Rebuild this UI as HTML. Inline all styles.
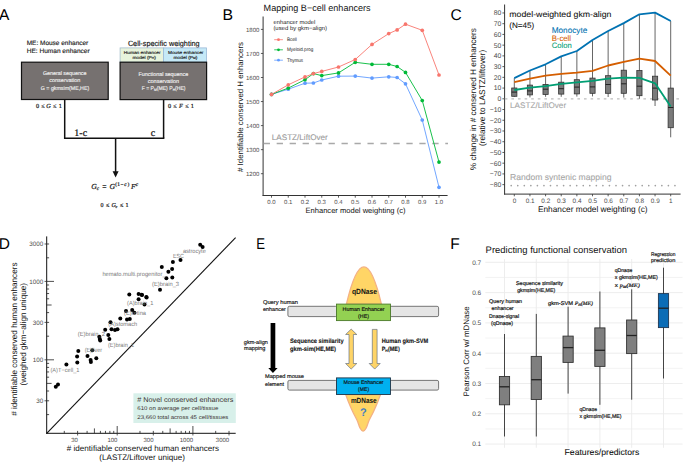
<!DOCTYPE html>
<html><head><meta charset="utf-8"><style>
html,body{margin:0;padding:0;background:#fff;overflow:hidden;}
svg{display:block;} text{text-rendering:geometricPrecision;}
</style></head><body>
<svg width="685" height="462" viewBox="0 0 685 462">
<rect width="685" height="462" fill="#fff"/>
<text transform="translate(-1,20.2) scale(1,1)" x="0" y="0" font-family="Liberation Sans, sans-serif" font-size="15.5" fill="#000">A</text>
<text transform="translate(222.6,19.9) scale(1.02,1)" x="0" y="0" font-family="Liberation Sans, sans-serif" font-size="15.5" fill="#000">B</text>
<text transform="translate(450.6,20.1) scale(1,1)" x="0" y="0" font-family="Liberation Sans, sans-serif" font-size="15.5" fill="#000">C</text>
<text transform="translate(-1.2,248.9) scale(1,1)" x="0" y="0" font-family="Liberation Sans, sans-serif" font-size="15.5" fill="#000">D</text>
<text transform="translate(256.3,248.9) scale(0.85,1)" x="0" y="0" font-family="Liberation Sans, sans-serif" font-size="15.5" fill="#000">E</text>
<text transform="translate(450.2,248.9) scale(1,1)" x="0" y="0" font-family="Liberation Sans, sans-serif" font-size="15.5" fill="#000">F</text>
<text x="26.70" y="44.70" font-family="Liberation Sans, sans-serif" font-size="6.3" fill="#222" textLength="61.6" lengthAdjust="spacingAndGlyphs"  stroke="#222" stroke-width="0.15">ME: Mouse enhancer</text>
<text x="26.70" y="53.40" font-family="Liberation Sans, sans-serif" font-size="6.3" fill="#222" textLength="63" lengthAdjust="spacingAndGlyphs"  stroke="#222" stroke-width="0.15">HE: Human enhancer</text>
<text x="127.90" y="45.60" font-family="Liberation Sans, sans-serif" font-size="7.6" fill="#111" textLength="71.7" lengthAdjust="spacingAndGlyphs"  stroke="#111" stroke-width="0.15">Cell-specific weighting</text>
<rect x="120.10" y="47.90" width="43.30" height="14.30" fill="#e7f3dc" stroke="#a3bccb" stroke-width="0.8" />
<rect x="163.40" y="47.90" width="43.20" height="14.30" fill="#c5e9f7" stroke="#9ab8d8" stroke-width="0.8" />
<text x="142.20" y="53.90" font-family="Liberation Sans, sans-serif" font-size="4.3" fill="#222" text-anchor="middle" textLength="36.8" lengthAdjust="spacingAndGlyphs"  stroke="#222" stroke-width="0.15">Human enhancer</text>
<text x="144.20" y="59.40" font-family="Liberation Sans, sans-serif" font-size="4.3" fill="#222" text-anchor="middle" textLength="23.5" lengthAdjust="spacingAndGlyphs"  stroke="#222" stroke-width="0.15">model (P<tspan font-size="3">H</tspan>)</text>
<text x="185.70" y="53.90" font-family="Liberation Sans, sans-serif" font-size="4.3" fill="#222" text-anchor="middle" textLength="35.5" lengthAdjust="spacingAndGlyphs"  stroke="#222" stroke-width="0.15">Mouse enhancer</text>
<text x="185.50" y="59.40" font-family="Liberation Sans, sans-serif" font-size="4.3" fill="#222" text-anchor="middle" textLength="23.9" lengthAdjust="spacingAndGlyphs"  stroke="#222" stroke-width="0.15">model (P<tspan font-size="3">M</tspan>)</text>
<rect x="21.50" y="62.20" width="86.70" height="37.30" fill="#767170" stroke="#111" stroke-width="1.2" />
<rect x="120.10" y="62.20" width="86.50" height="37.40" fill="#767170" stroke="#111" stroke-width="1.2" />
<text x="64.70" y="75.40" font-family="Liberation Sans, sans-serif" font-size="5.4" fill="#eee" text-anchor="middle" textLength="43.6" lengthAdjust="spacingAndGlyphs"  stroke="#eee" stroke-width="0.15">General sequence</text>
<text x="64.80" y="82.40" font-family="Liberation Sans, sans-serif" font-size="5.4" fill="#eee" text-anchor="middle" textLength="31.1" lengthAdjust="spacingAndGlyphs"  stroke="#eee" stroke-width="0.15">conservation</text>
<text x="65.00" y="89.80" font-family="Liberation Sans, sans-serif" font-size="5.4" fill="#eee" text-anchor="middle" textLength="48.4" lengthAdjust="spacingAndGlyphs"  stroke="#eee" stroke-width="0.15">G = gkmsim(ME,HE)</text>
<text x="163.40" y="75.50" font-family="Liberation Sans, sans-serif" font-size="5.4" fill="#eee" text-anchor="middle" textLength="49.7" lengthAdjust="spacingAndGlyphs"  stroke="#eee" stroke-width="0.15">Functional sequence</text>
<text x="163.40" y="82.50" font-family="Liberation Sans, sans-serif" font-size="5.4" fill="#eee" text-anchor="middle" textLength="31.3" lengthAdjust="spacingAndGlyphs"  stroke="#eee" stroke-width="0.15">conservation</text>
<text x="163.60" y="89.90" font-family="Liberation Sans, sans-serif" font-size="5.4" fill="#eee" text-anchor="middle" textLength="43.8" lengthAdjust="spacingAndGlyphs"  stroke="#eee" stroke-width="0.15">F = P<tspan font-size="3.5" dy="1">M</tspan><tspan dy="-1">(ME) P</tspan><tspan font-size="3.5" dy="1">H</tspan><tspan dy="-1">(HE)</tspan></text>
<line x1="64.70" y1="99.50" x2="64.70" y2="138.20" stroke="#111" stroke-width="1.5" />
<line x1="163.60" y1="99.60" x2="163.60" y2="138.20" stroke="#111" stroke-width="1.5" />
<line x1="63.95" y1="138.20" x2="164.35" y2="138.20" stroke="#111" stroke-width="1.5" />
<line x1="115.60" y1="138.20" x2="115.60" y2="172.00" stroke="#111" stroke-width="1.5" />
<path d="M112.6,171.2 L118.6,171.2 L115.6,177.6 Z" fill="#111"/>
<text x="76.80" y="135.60" font-family="Liberation Serif, serif" font-size="10" fill="#111" text-anchor="middle" stroke="#111" stroke-width="0.22">1</text>
<text x="81.00" y="135.60" font-family="Liberation Serif, serif" font-size="10" fill="#111" text-anchor="middle" stroke="#111" stroke-width="0.22">-</text>
<text x="84.90" y="135.60" font-family="Liberation Serif, serif" font-size="10" fill="#111" text-anchor="middle" stroke="#111" stroke-width="0.22">c</text>
<text x="153.00" y="135.60" font-family="Liberation Serif, serif" font-size="10" fill="#111" text-anchor="middle" stroke="#111" stroke-width="0.22">c</text>
<text x="37.45" y="107.80" font-family="Liberation Serif, serif" font-size="6.2" fill="#222" text-anchor="middle" stroke="#222" stroke-width="0.22">0</text>
<text x="42.95" y="107.80" font-family="Liberation Serif, serif" font-size="6.2" fill="#222" text-anchor="middle" stroke="#222" stroke-width="0.22">≤</text>
<text x="48.50" y="107.80" font-family="Liberation Serif, serif" font-size="6.2" fill="#222" text-anchor="middle" font-style="italic" stroke="#222" stroke-width="0.22">G</text>
<text x="54.75" y="107.80" font-family="Liberation Serif, serif" font-size="6.2" fill="#222" text-anchor="middle" stroke="#222" stroke-width="0.22">≤</text>
<text x="60.35" y="107.80" font-family="Liberation Serif, serif" font-size="6.2" fill="#222" text-anchor="middle" stroke="#222" stroke-width="0.22">1</text>
<text x="169.45" y="107.80" font-family="Liberation Serif, serif" font-size="6.2" fill="#222" text-anchor="middle" stroke="#222" stroke-width="0.22">0</text>
<text x="174.95" y="107.80" font-family="Liberation Serif, serif" font-size="6.2" fill="#222" text-anchor="middle" stroke="#222" stroke-width="0.22">≤</text>
<text x="180.95" y="107.80" font-family="Liberation Serif, serif" font-size="6.2" fill="#222" text-anchor="middle" font-style="italic" stroke="#222" stroke-width="0.22">F</text>
<text x="187.00" y="107.80" font-family="Liberation Serif, serif" font-size="6.2" fill="#222" text-anchor="middle" stroke="#222" stroke-width="0.22">≤</text>
<text x="192.40" y="107.80" font-family="Liberation Serif, serif" font-size="6.2" fill="#222" text-anchor="middle" stroke="#222" stroke-width="0.22">1</text>
<text x="93.90" y="188.80" font-family="Liberation Serif, serif" font-size="7.6" fill="#222" text-anchor="middle" font-style="italic" stroke="#222" stroke-width="0.22">G</text>
<text x="97.90" y="190.40" font-family="Liberation Serif, serif" font-size="5.2" fill="#222" text-anchor="middle" font-style="italic" stroke="#222" stroke-width="0.22">c</text>
<text x="104.30" y="188.80" font-family="Liberation Serif, serif" font-size="7.6" fill="#222" text-anchor="middle" stroke="#222" stroke-width="0.22">=</text>
<text x="112.30" y="188.80" font-family="Liberation Serif, serif" font-size="7.6" fill="#222" text-anchor="middle" font-style="italic" stroke="#222" stroke-width="0.22">G</text>
<text x="116.20" y="186.30" font-family="Liberation Serif, serif" font-size="5.4" fill="#222" text-anchor="middle" stroke="#222" stroke-width="0.22">(</text>
<text x="118.60" y="186.30" font-family="Liberation Serif, serif" font-size="5.4" fill="#222" text-anchor="middle" stroke="#222" stroke-width="0.22">1</text>
<text x="121.90" y="186.30" font-family="Liberation Serif, serif" font-size="5.4" fill="#222" text-anchor="middle" stroke="#222" stroke-width="0.22">−</text>
<text x="125.40" y="186.30" font-family="Liberation Serif, serif" font-size="5.4" fill="#222" text-anchor="middle" font-style="italic" stroke="#222" stroke-width="0.22">c</text>
<text x="128.30" y="186.30" font-family="Liberation Serif, serif" font-size="5.4" fill="#222" text-anchor="middle" stroke="#222" stroke-width="0.22">)</text>
<text x="133.30" y="188.80" font-family="Liberation Serif, serif" font-size="7.6" fill="#222" text-anchor="middle" font-style="italic" stroke="#222" stroke-width="0.22">F</text>
<text x="137.00" y="186.30" font-family="Liberation Serif, serif" font-size="5.4" fill="#222" text-anchor="middle" font-style="italic" stroke="#222" stroke-width="0.22">c</text>
<text x="102.10" y="207.30" font-family="Liberation Serif, serif" font-size="6" fill="#222" text-anchor="middle" stroke="#222" stroke-width="0.22">0</text>
<text x="107.60" y="207.30" font-family="Liberation Serif, serif" font-size="6" fill="#222" text-anchor="middle" stroke="#222" stroke-width="0.22">≤</text>
<text x="113.60" y="207.30" font-family="Liberation Serif, serif" font-size="6" fill="#222" text-anchor="middle" font-style="italic" stroke="#222" stroke-width="0.22">G</text>
<text x="116.40" y="208.30" font-family="Liberation Serif, serif" font-size="4" fill="#222" text-anchor="middle" font-style="italic" stroke="#222" stroke-width="0.22">c</text>
<text x="121.70" y="207.30" font-family="Liberation Serif, serif" font-size="6" fill="#222" text-anchor="middle" stroke="#222" stroke-width="0.22">≤</text>
<text x="127.10" y="207.30" font-family="Liberation Serif, serif" font-size="6" fill="#222" text-anchor="middle" stroke="#222" stroke-width="0.22">1</text>
<text x="263.60" y="10.70" font-family="Liberation Sans, sans-serif" font-size="9.2" fill="#111" textLength="107" lengthAdjust="spacingAndGlyphs" >Mapping B−cell enhancers</text>
<line x1="263.10" y1="16.50" x2="263.10" y2="195.90" stroke="#333" stroke-width="1" />
<line x1="262.60" y1="195.50" x2="447.60" y2="195.50" stroke="#333" stroke-width="1" />
<line x1="260.90" y1="173.70" x2="263.10" y2="173.70" stroke="#333" stroke-width="0.8" />
<text x="259.40" y="175.80" font-family="Liberation Sans, sans-serif" font-size="6" fill="#4d4d4d" text-anchor="end" >1200</text>
<line x1="260.90" y1="149.65" x2="263.10" y2="149.65" stroke="#333" stroke-width="0.8" />
<text x="259.40" y="151.75" font-family="Liberation Sans, sans-serif" font-size="6" fill="#4d4d4d" text-anchor="end" >1300</text>
<line x1="260.90" y1="125.60" x2="263.10" y2="125.60" stroke="#333" stroke-width="0.8" />
<text x="259.40" y="127.70" font-family="Liberation Sans, sans-serif" font-size="6" fill="#4d4d4d" text-anchor="end" >1400</text>
<line x1="260.90" y1="101.55" x2="263.10" y2="101.55" stroke="#333" stroke-width="0.8" />
<text x="259.40" y="103.65" font-family="Liberation Sans, sans-serif" font-size="6" fill="#4d4d4d" text-anchor="end" >1500</text>
<line x1="260.90" y1="77.50" x2="263.10" y2="77.50" stroke="#333" stroke-width="0.8" />
<text x="259.40" y="79.60" font-family="Liberation Sans, sans-serif" font-size="6" fill="#4d4d4d" text-anchor="end" >1600</text>
<line x1="260.90" y1="53.45" x2="263.10" y2="53.45" stroke="#333" stroke-width="0.8" />
<text x="259.40" y="55.55" font-family="Liberation Sans, sans-serif" font-size="6" fill="#4d4d4d" text-anchor="end" >1700</text>
<line x1="260.90" y1="29.40" x2="263.10" y2="29.40" stroke="#333" stroke-width="0.8" />
<text x="259.40" y="31.50" font-family="Liberation Sans, sans-serif" font-size="6" fill="#4d4d4d" text-anchor="end" >1800</text>
<line x1="271.50" y1="195.50" x2="271.50" y2="197.70" stroke="#333" stroke-width="0.8" />
<text x="271.50" y="203.70" font-family="Liberation Sans, sans-serif" font-size="6" fill="#4d4d4d" text-anchor="middle" >0.0</text>
<line x1="288.25" y1="195.50" x2="288.25" y2="197.70" stroke="#333" stroke-width="0.8" />
<text x="288.25" y="203.70" font-family="Liberation Sans, sans-serif" font-size="6" fill="#4d4d4d" text-anchor="middle" >0.1</text>
<line x1="305.00" y1="195.50" x2="305.00" y2="197.70" stroke="#333" stroke-width="0.8" />
<text x="305.00" y="203.70" font-family="Liberation Sans, sans-serif" font-size="6" fill="#4d4d4d" text-anchor="middle" >0.2</text>
<line x1="321.75" y1="195.50" x2="321.75" y2="197.70" stroke="#333" stroke-width="0.8" />
<text x="321.75" y="203.70" font-family="Liberation Sans, sans-serif" font-size="6" fill="#4d4d4d" text-anchor="middle" >0.3</text>
<line x1="338.50" y1="195.50" x2="338.50" y2="197.70" stroke="#333" stroke-width="0.8" />
<text x="338.50" y="203.70" font-family="Liberation Sans, sans-serif" font-size="6" fill="#4d4d4d" text-anchor="middle" >0.4</text>
<line x1="355.25" y1="195.50" x2="355.25" y2="197.70" stroke="#333" stroke-width="0.8" />
<text x="355.25" y="203.70" font-family="Liberation Sans, sans-serif" font-size="6" fill="#4d4d4d" text-anchor="middle" >0.5</text>
<line x1="372.00" y1="195.50" x2="372.00" y2="197.70" stroke="#333" stroke-width="0.8" />
<text x="372.00" y="203.70" font-family="Liberation Sans, sans-serif" font-size="6" fill="#4d4d4d" text-anchor="middle" >0.6</text>
<line x1="388.75" y1="195.50" x2="388.75" y2="197.70" stroke="#333" stroke-width="0.8" />
<text x="388.75" y="203.70" font-family="Liberation Sans, sans-serif" font-size="6" fill="#4d4d4d" text-anchor="middle" >0.7</text>
<line x1="405.50" y1="195.50" x2="405.50" y2="197.70" stroke="#333" stroke-width="0.8" />
<text x="405.50" y="203.70" font-family="Liberation Sans, sans-serif" font-size="6" fill="#4d4d4d" text-anchor="middle" >0.8</text>
<line x1="422.25" y1="195.50" x2="422.25" y2="197.70" stroke="#333" stroke-width="0.8" />
<text x="422.25" y="203.70" font-family="Liberation Sans, sans-serif" font-size="6" fill="#4d4d4d" text-anchor="middle" >0.9</text>
<line x1="439.00" y1="195.50" x2="439.00" y2="197.70" stroke="#333" stroke-width="0.8" />
<text x="439.00" y="203.70" font-family="Liberation Sans, sans-serif" font-size="6" fill="#4d4d4d" text-anchor="middle" >1.0</text>
<text x="355.50" y="212.80" font-family="Liberation Sans, sans-serif" font-size="7.6" fill="#111" text-anchor="middle" textLength="100" lengthAdjust="spacingAndGlyphs" >Enhancer model weighting (c)</text>
<text transform="translate(243.40,107.00) rotate(-90)" x="0" y="0" font-family="Liberation Sans, sans-serif" font-size="7.9" fill="#111" text-anchor="middle" textLength="129.9" lengthAdjust="spacingAndGlyphs"># Identifiable conserved H enhancers</text>
<line x1="263.70" y1="143.50" x2="448.00" y2="143.50" stroke="#a9a9a9" stroke-width="1.5" stroke-dasharray="6.3 6.67"/>
<text x="271.80" y="139.90" font-family="Liberation Sans, sans-serif" font-size="8.1" fill="#9a9a9a" textLength="56" lengthAdjust="spacingAndGlyphs"  stroke="#9a9a9a" stroke-width="0.1">LASTZ/LiftOver</text>
<text x="273.40" y="23.90" font-family="Liberation Sans, sans-serif" font-size="5.8" fill="#222" textLength="42" lengthAdjust="spacingAndGlyphs" >enhancer model</text>
<text x="273.40" y="30.10" font-family="Liberation Sans, sans-serif" font-size="5.8" fill="#222" textLength="53.6" lengthAdjust="spacingAndGlyphs" >(used by gkm−align)</text>
<line x1="274.20" y1="39.70" x2="282.90" y2="39.70" stroke="#F8766D" stroke-width="0.8" />
<circle cx="278.5" cy="39.7" r="1.4" fill="#F8766D"/>
<text x="286.90" y="41.30" font-family="Liberation Sans, sans-serif" font-size="5" fill="#222" textLength="10" lengthAdjust="spacingAndGlyphs" >Bcell</text>
<line x1="274.20" y1="49.80" x2="282.90" y2="49.80" stroke="#00BA38" stroke-width="0.8" />
<circle cx="278.5" cy="49.8" r="1.4" fill="#00BA38"/>
<text x="286.90" y="51.40" font-family="Liberation Sans, sans-serif" font-size="5" fill="#222" textLength="26.5" lengthAdjust="spacingAndGlyphs" >Myeloid.prog</text>
<line x1="274.20" y1="60.20" x2="282.90" y2="60.20" stroke="#619CFF" stroke-width="0.8" />
<circle cx="278.5" cy="60.2" r="1.4" fill="#619CFF"/>
<text x="286.90" y="61.80" font-family="Liberation Sans, sans-serif" font-size="5" fill="#222" textLength="16.2" lengthAdjust="spacingAndGlyphs" >Thymus</text>
<polyline points="271.50,94.40 288.25,89.20 305.00,83.20 313.38,83.00 321.75,80.00 338.50,76.20 355.25,76.10 372.00,78.10 388.75,76.80 397.12,77.50 405.50,83.80 422.25,120.00 439.00,187.30" fill="none" stroke="#619CFF" stroke-width="0.9"/>
<circle cx="271.50" cy="94.40" r="1.85" fill="#619CFF"/>
<circle cx="288.25" cy="89.20" r="1.85" fill="#619CFF"/>
<circle cx="305.00" cy="83.20" r="1.85" fill="#619CFF"/>
<circle cx="313.38" cy="83.00" r="1.85" fill="#619CFF"/>
<circle cx="321.75" cy="80.00" r="1.85" fill="#619CFF"/>
<circle cx="338.50" cy="76.20" r="1.85" fill="#619CFF"/>
<circle cx="355.25" cy="76.10" r="1.85" fill="#619CFF"/>
<circle cx="372.00" cy="78.10" r="1.85" fill="#619CFF"/>
<circle cx="388.75" cy="76.80" r="1.85" fill="#619CFF"/>
<circle cx="397.12" cy="77.50" r="1.85" fill="#619CFF"/>
<circle cx="405.50" cy="83.80" r="1.85" fill="#619CFF"/>
<circle cx="422.25" cy="120.00" r="1.85" fill="#619CFF"/>
<circle cx="439.00" cy="187.30" r="1.85" fill="#619CFF"/>
<polyline points="271.50,94.40 288.25,88.10 305.00,79.70 313.38,73.60 321.75,75.60 338.50,72.90 355.25,62.30 372.00,64.30 388.75,64.30 397.12,66.50 405.50,72.40 422.25,100.50 439.00,162.10" fill="none" stroke="#00BA38" stroke-width="0.9"/>
<circle cx="271.50" cy="94.40" r="1.85" fill="#00BA38"/>
<circle cx="288.25" cy="88.10" r="1.85" fill="#00BA38"/>
<circle cx="305.00" cy="79.70" r="1.85" fill="#00BA38"/>
<circle cx="313.38" cy="73.60" r="1.85" fill="#00BA38"/>
<circle cx="321.75" cy="75.60" r="1.85" fill="#00BA38"/>
<circle cx="338.50" cy="72.90" r="1.85" fill="#00BA38"/>
<circle cx="355.25" cy="62.30" r="1.85" fill="#00BA38"/>
<circle cx="372.00" cy="64.30" r="1.85" fill="#00BA38"/>
<circle cx="388.75" cy="64.30" r="1.85" fill="#00BA38"/>
<circle cx="397.12" cy="66.50" r="1.85" fill="#00BA38"/>
<circle cx="405.50" cy="72.40" r="1.85" fill="#00BA38"/>
<circle cx="422.25" cy="100.50" r="1.85" fill="#00BA38"/>
<circle cx="439.00" cy="162.10" r="1.85" fill="#00BA38"/>
<polyline points="271.50,94.40 288.25,84.80 305.00,76.90 313.38,73.60 321.75,71.40 338.50,67.00 355.25,59.50 372.00,44.40 388.75,33.60 397.12,29.90 405.50,24.20 422.25,30.30 439.00,75.00" fill="none" stroke="#F8766D" stroke-width="0.9"/>
<circle cx="271.50" cy="94.40" r="1.85" fill="#F8766D"/>
<circle cx="288.25" cy="84.80" r="1.85" fill="#F8766D"/>
<circle cx="305.00" cy="76.90" r="1.85" fill="#F8766D"/>
<circle cx="313.38" cy="73.60" r="1.85" fill="#F8766D"/>
<circle cx="321.75" cy="71.40" r="1.85" fill="#F8766D"/>
<circle cx="338.50" cy="67.00" r="1.85" fill="#F8766D"/>
<circle cx="355.25" cy="59.50" r="1.85" fill="#F8766D"/>
<circle cx="372.00" cy="44.40" r="1.85" fill="#F8766D"/>
<circle cx="388.75" cy="33.60" r="1.85" fill="#F8766D"/>
<circle cx="397.12" cy="29.90" r="1.85" fill="#F8766D"/>
<circle cx="405.50" cy="24.20" r="1.85" fill="#F8766D"/>
<circle cx="422.25" cy="30.30" r="1.85" fill="#F8766D"/>
<circle cx="439.00" cy="75.00" r="1.85" fill="#F8766D"/>
<line x1="504.60" y1="4.50" x2="504.60" y2="194.60" stroke="#333" stroke-width="1" />
<line x1="504.10" y1="194.10" x2="680.60" y2="194.10" stroke="#333" stroke-width="1" />
<line x1="502.40" y1="184.64" x2="504.60" y2="184.64" stroke="#333" stroke-width="0.8" />
<text x="501.40" y="187.04" font-family="Liberation Sans, sans-serif" font-size="6.8" fill="#4d4d4d" text-anchor="end" >−80</text>
<line x1="502.40" y1="173.91" x2="504.60" y2="173.91" stroke="#333" stroke-width="0.8" />
<text x="501.40" y="176.31" font-family="Liberation Sans, sans-serif" font-size="6.8" fill="#4d4d4d" text-anchor="end" >−70</text>
<line x1="502.40" y1="163.18" x2="504.60" y2="163.18" stroke="#333" stroke-width="0.8" />
<text x="501.40" y="165.58" font-family="Liberation Sans, sans-serif" font-size="6.8" fill="#4d4d4d" text-anchor="end" >−60</text>
<line x1="502.40" y1="152.45" x2="504.60" y2="152.45" stroke="#333" stroke-width="0.8" />
<text x="501.40" y="154.85" font-family="Liberation Sans, sans-serif" font-size="6.8" fill="#4d4d4d" text-anchor="end" >−50</text>
<line x1="502.40" y1="141.72" x2="504.60" y2="141.72" stroke="#333" stroke-width="0.8" />
<text x="501.40" y="144.12" font-family="Liberation Sans, sans-serif" font-size="6.8" fill="#4d4d4d" text-anchor="end" >−40</text>
<line x1="502.40" y1="130.99" x2="504.60" y2="130.99" stroke="#333" stroke-width="0.8" />
<text x="501.40" y="133.39" font-family="Liberation Sans, sans-serif" font-size="6.8" fill="#4d4d4d" text-anchor="end" >−30</text>
<line x1="502.40" y1="120.26" x2="504.60" y2="120.26" stroke="#333" stroke-width="0.8" />
<text x="501.40" y="122.66" font-family="Liberation Sans, sans-serif" font-size="6.8" fill="#4d4d4d" text-anchor="end" >−20</text>
<line x1="502.40" y1="109.53" x2="504.60" y2="109.53" stroke="#333" stroke-width="0.8" />
<text x="501.40" y="111.93" font-family="Liberation Sans, sans-serif" font-size="6.8" fill="#4d4d4d" text-anchor="end" >−10</text>
<line x1="502.40" y1="98.80" x2="504.60" y2="98.80" stroke="#333" stroke-width="0.8" />
<text x="501.40" y="101.20" font-family="Liberation Sans, sans-serif" font-size="6.8" fill="#4d4d4d" text-anchor="end" >0</text>
<line x1="502.40" y1="88.07" x2="504.60" y2="88.07" stroke="#333" stroke-width="0.8" />
<text x="501.40" y="90.47" font-family="Liberation Sans, sans-serif" font-size="6.8" fill="#4d4d4d" text-anchor="end" >10</text>
<line x1="502.40" y1="77.34" x2="504.60" y2="77.34" stroke="#333" stroke-width="0.8" />
<text x="501.40" y="79.74" font-family="Liberation Sans, sans-serif" font-size="6.8" fill="#4d4d4d" text-anchor="end" >20</text>
<line x1="502.40" y1="66.61" x2="504.60" y2="66.61" stroke="#333" stroke-width="0.8" />
<text x="501.40" y="69.01" font-family="Liberation Sans, sans-serif" font-size="6.8" fill="#4d4d4d" text-anchor="end" >30</text>
<line x1="502.40" y1="55.88" x2="504.60" y2="55.88" stroke="#333" stroke-width="0.8" />
<text x="501.40" y="58.28" font-family="Liberation Sans, sans-serif" font-size="6.8" fill="#4d4d4d" text-anchor="end" >40</text>
<line x1="502.40" y1="45.15" x2="504.60" y2="45.15" stroke="#333" stroke-width="0.8" />
<text x="501.40" y="47.55" font-family="Liberation Sans, sans-serif" font-size="6.8" fill="#4d4d4d" text-anchor="end" >50</text>
<line x1="502.40" y1="34.42" x2="504.60" y2="34.42" stroke="#333" stroke-width="0.8" />
<text x="501.40" y="36.82" font-family="Liberation Sans, sans-serif" font-size="6.8" fill="#4d4d4d" text-anchor="end" >60</text>
<line x1="502.40" y1="23.69" x2="504.60" y2="23.69" stroke="#333" stroke-width="0.8" />
<text x="501.40" y="26.09" font-family="Liberation Sans, sans-serif" font-size="6.8" fill="#4d4d4d" text-anchor="end" >70</text>
<line x1="502.40" y1="12.96" x2="504.60" y2="12.96" stroke="#333" stroke-width="0.8" />
<text x="501.40" y="15.36" font-family="Liberation Sans, sans-serif" font-size="6.8" fill="#4d4d4d" text-anchor="end" >80</text>
<line x1="514.30" y1="194.10" x2="514.30" y2="196.30" stroke="#333" stroke-width="0.8" />
<text x="514.50" y="202.80" font-family="Liberation Sans, sans-serif" font-size="6.4" fill="#4d4d4d" text-anchor="middle" >0</text>
<line x1="529.94" y1="194.10" x2="529.94" y2="196.30" stroke="#333" stroke-width="0.8" />
<text x="530.14" y="202.80" font-family="Liberation Sans, sans-serif" font-size="6.4" fill="#4d4d4d" text-anchor="middle" >0.1</text>
<line x1="545.58" y1="194.10" x2="545.58" y2="196.30" stroke="#333" stroke-width="0.8" />
<text x="545.78" y="202.80" font-family="Liberation Sans, sans-serif" font-size="6.4" fill="#4d4d4d" text-anchor="middle" >0.2</text>
<line x1="561.22" y1="194.10" x2="561.22" y2="196.30" stroke="#333" stroke-width="0.8" />
<text x="561.42" y="202.80" font-family="Liberation Sans, sans-serif" font-size="6.4" fill="#4d4d4d" text-anchor="middle" >0.3</text>
<line x1="576.86" y1="194.10" x2="576.86" y2="196.30" stroke="#333" stroke-width="0.8" />
<text x="577.06" y="202.80" font-family="Liberation Sans, sans-serif" font-size="6.4" fill="#4d4d4d" text-anchor="middle" >0.4</text>
<line x1="592.50" y1="194.10" x2="592.50" y2="196.30" stroke="#333" stroke-width="0.8" />
<text x="592.70" y="202.80" font-family="Liberation Sans, sans-serif" font-size="6.4" fill="#4d4d4d" text-anchor="middle" >0.5</text>
<line x1="608.14" y1="194.10" x2="608.14" y2="196.30" stroke="#333" stroke-width="0.8" />
<text x="608.34" y="202.80" font-family="Liberation Sans, sans-serif" font-size="6.4" fill="#4d4d4d" text-anchor="middle" >0.6</text>
<line x1="623.78" y1="194.10" x2="623.78" y2="196.30" stroke="#333" stroke-width="0.8" />
<text x="623.98" y="202.80" font-family="Liberation Sans, sans-serif" font-size="6.4" fill="#4d4d4d" text-anchor="middle" >0.7</text>
<line x1="639.42" y1="194.10" x2="639.42" y2="196.30" stroke="#333" stroke-width="0.8" />
<text x="639.62" y="202.80" font-family="Liberation Sans, sans-serif" font-size="6.4" fill="#4d4d4d" text-anchor="middle" >0.8</text>
<line x1="655.06" y1="194.10" x2="655.06" y2="196.30" stroke="#333" stroke-width="0.8" />
<text x="655.26" y="202.80" font-family="Liberation Sans, sans-serif" font-size="6.4" fill="#4d4d4d" text-anchor="middle" >0.9</text>
<line x1="670.70" y1="194.10" x2="670.70" y2="196.30" stroke="#333" stroke-width="0.8" />
<text x="670.90" y="202.80" font-family="Liberation Sans, sans-serif" font-size="6.4" fill="#4d4d4d" text-anchor="middle" >1</text>
<text x="592.80" y="212.30" font-family="Liberation Sans, sans-serif" font-size="8.3" fill="#111" text-anchor="middle" textLength="109.7" lengthAdjust="spacingAndGlyphs" >Enhancer model weighting (c)</text>
<text transform="translate(476.40,99.10) rotate(-90)" x="0" y="0" font-family="Liberation Sans, sans-serif" font-size="8.3" fill="#111" text-anchor="middle" textLength="142.2" lengthAdjust="spacingAndGlyphs">% change in # conserved H enhancers</text>
<text transform="translate(484.90,97.90) rotate(-90)" x="0" y="0" font-family="Liberation Sans, sans-serif" font-size="8.3" fill="#111" text-anchor="middle" textLength="96.3" lengthAdjust="spacingAndGlyphs">(relative to LASTZ/liftover)</text>
<line x1="504.80" y1="98.80" x2="681.00" y2="98.80" stroke="#bdbdbd" stroke-width="1.2" stroke-dasharray="2.6 4.0"/>
<text x="510.10" y="108.00" font-family="Liberation Sans, sans-serif" font-size="8.1" fill="#a6a6a6" textLength="56" lengthAdjust="spacingAndGlyphs"  stroke="#a6a6a6" stroke-width="0.1">LASTZ/LiftOver</text>
<line x1="511.20" y1="185.60" x2="681.00" y2="185.60" stroke="#a0a0a0" stroke-width="1.7" stroke-dasharray="0 6.55" stroke-linecap="round"/>
<text x="510.00" y="180.20" font-family="Liberation Sans, sans-serif" font-size="8.6" fill="#a6a6a6" textLength="101.5" lengthAdjust="spacingAndGlyphs"  stroke="#a6a6a6" stroke-width="0.1">Random syntenic mapping</text>
<text x="509.30" y="16.80" font-family="Liberation Sans, sans-serif" font-size="8.1" fill="#111" textLength="102.2" lengthAdjust="spacingAndGlyphs"  stroke="#111" stroke-width="0.08">model-weighted gkm-align</text>
<text x="509.30" y="27.60" font-family="Liberation Sans, sans-serif" font-size="7.9" fill="#111" textLength="25" lengthAdjust="spacingAndGlyphs"  stroke="#111" stroke-width="0.08">(N=45)</text>
<text x="551.70" y="32.60" font-family="Liberation Sans, sans-serif" font-size="8.2" fill="#0072B2" textLength="35.6" lengthAdjust="spacingAndGlyphs"  stroke="#0072B2" stroke-width="0.08">Monocyte</text>
<text x="551.70" y="41.00" font-family="Liberation Sans, sans-serif" font-size="8" fill="#D55E00" textLength="19.3" lengthAdjust="spacingAndGlyphs"  stroke="#D55E00" stroke-width="0.08">B-cell</text>
<text x="551.70" y="48.30" font-family="Liberation Sans, sans-serif" font-size="7.9" fill="#009E73" textLength="20" lengthAdjust="spacingAndGlyphs"  stroke="#009E73" stroke-width="0.08">Colon</text>
<line x1="514.30" y1="78.10" x2="514.30" y2="96.80" stroke="#555" stroke-width="0.9" />
<rect x="511.70" y="88.00" width="5.20" height="8.30" fill="#7a7a7a" stroke="#333" stroke-width="0.8" />
<line x1="511.70" y1="92.10" x2="516.90" y2="92.10" stroke="#222" stroke-width="1.0" />
<line x1="529.94" y1="70.50" x2="529.94" y2="97.40" stroke="#555" stroke-width="0.9" />
<rect x="527.34" y="85.10" width="5.20" height="9.80" fill="#7a7a7a" stroke="#333" stroke-width="0.8" />
<line x1="527.34" y1="90.90" x2="532.54" y2="90.90" stroke="#222" stroke-width="1.0" />
<line x1="545.58" y1="64.30" x2="545.58" y2="96.80" stroke="#555" stroke-width="0.9" />
<rect x="542.98" y="84.40" width="5.20" height="10.00" fill="#7a7a7a" stroke="#333" stroke-width="0.8" />
<line x1="542.98" y1="89.20" x2="548.18" y2="89.20" stroke="#222" stroke-width="1.0" />
<line x1="561.22" y1="56.40" x2="561.22" y2="96.80" stroke="#555" stroke-width="0.9" />
<rect x="558.62" y="82.20" width="5.20" height="11.90" fill="#7a7a7a" stroke="#333" stroke-width="0.8" />
<line x1="558.62" y1="88.70" x2="563.82" y2="88.70" stroke="#222" stroke-width="1.0" />
<line x1="576.86" y1="51.00" x2="576.86" y2="96.60" stroke="#555" stroke-width="0.9" />
<rect x="574.26" y="79.70" width="5.20" height="14.20" fill="#7a7a7a" stroke="#333" stroke-width="0.8" />
<line x1="574.26" y1="87.10" x2="579.46" y2="87.10" stroke="#222" stroke-width="1.0" />
<line x1="592.50" y1="40.00" x2="592.50" y2="96.40" stroke="#555" stroke-width="0.9" />
<rect x="589.90" y="78.10" width="5.20" height="15.20" fill="#7a7a7a" stroke="#333" stroke-width="0.8" />
<line x1="589.90" y1="86.90" x2="595.10" y2="86.90" stroke="#222" stroke-width="1.0" />
<line x1="608.14" y1="31.00" x2="608.14" y2="97.00" stroke="#555" stroke-width="0.9" />
<rect x="605.54" y="75.70" width="5.20" height="17.60" fill="#7a7a7a" stroke="#333" stroke-width="0.8" />
<line x1="605.54" y1="84.50" x2="610.74" y2="84.50" stroke="#222" stroke-width="1.0" />
<line x1="623.78" y1="23.10" x2="623.78" y2="97.60" stroke="#555" stroke-width="0.9" />
<rect x="621.18" y="70.20" width="5.20" height="23.10" fill="#7a7a7a" stroke="#333" stroke-width="0.8" />
<line x1="621.18" y1="83.80" x2="626.38" y2="83.80" stroke="#222" stroke-width="1.0" />
<line x1="639.42" y1="14.30" x2="639.42" y2="98.80" stroke="#555" stroke-width="0.9" />
<rect x="636.82" y="70.50" width="5.20" height="25.20" fill="#7a7a7a" stroke="#333" stroke-width="0.8" />
<line x1="636.82" y1="86.20" x2="642.02" y2="86.20" stroke="#222" stroke-width="1.0" />
<line x1="655.06" y1="12.60" x2="655.06" y2="106.00" stroke="#555" stroke-width="0.9" />
<rect x="652.46" y="76.20" width="5.20" height="23.80" fill="#7a7a7a" stroke="#333" stroke-width="0.8" />
<line x1="652.46" y1="88.10" x2="657.66" y2="88.10" stroke="#222" stroke-width="1.0" />
<line x1="670.70" y1="21.00" x2="670.70" y2="137.30" stroke="#555" stroke-width="0.9" />
<rect x="668.10" y="88.10" width="5.20" height="39.60" fill="#7a7a7a" stroke="#333" stroke-width="0.8" />
<line x1="668.10" y1="107.50" x2="673.30" y2="107.50" stroke="#222" stroke-width="1.0" />
<polyline points="514.30,90.00 529.94,87.60 545.58,86.20 561.22,83.80 576.86,82.40 592.50,80.80 608.14,78.60 623.78,77.60 639.42,77.90 655.06,83.30 670.70,106.40" fill="none" stroke="#009E73" stroke-width="1.8" stroke-linejoin="round"/>
<polyline points="514.30,82.10 529.94,78.60 545.58,75.70 561.22,73.80 576.86,72.60 592.50,70.80 608.14,65.50 623.78,61.90 639.42,58.60 655.06,61.00 670.70,75.70" fill="none" stroke="#D55E00" stroke-width="1.8" stroke-linejoin="round"/>
<polyline points="514.30,78.10 529.94,70.50 545.58,64.30 561.22,56.40 576.86,51.00 592.50,40.00 608.14,31.00 623.78,23.10 639.42,14.30 655.06,12.60 670.70,21.00" fill="none" stroke="#0072B2" stroke-width="1.8" stroke-linejoin="round"/>
<line x1="46.70" y1="236.40" x2="46.70" y2="433.80" stroke="#111" stroke-width="1" />
<line x1="46.20" y1="433.30" x2="235.70" y2="433.30" stroke="#111" stroke-width="1" />
<line x1="44.50" y1="400.79" x2="46.70" y2="400.79" stroke="#333" stroke-width="0.8" />
<text x="43.30" y="402.99" font-family="Liberation Sans, sans-serif" font-size="6.3" fill="#4d4d4d" text-anchor="end" >30</text>
<line x1="44.50" y1="359.80" x2="46.70" y2="359.80" stroke="#333" stroke-width="0.8" />
<text x="43.30" y="362.00" font-family="Liberation Sans, sans-serif" font-size="6.3" fill="#4d4d4d" text-anchor="end" >100</text>
<line x1="44.50" y1="322.39" x2="46.70" y2="322.39" stroke="#333" stroke-width="0.8" />
<text x="43.30" y="324.59" font-family="Liberation Sans, sans-serif" font-size="6.3" fill="#4d4d4d" text-anchor="end" >300</text>
<line x1="44.50" y1="281.40" x2="46.70" y2="281.40" stroke="#333" stroke-width="0.8" />
<text x="43.30" y="283.60" font-family="Liberation Sans, sans-serif" font-size="6.3" fill="#4d4d4d" text-anchor="end" >1000</text>
<line x1="44.50" y1="243.99" x2="46.70" y2="243.99" stroke="#333" stroke-width="0.8" />
<text x="43.30" y="246.19" font-family="Liberation Sans, sans-serif" font-size="6.3" fill="#4d4d4d" text-anchor="end" >3000</text>
<line x1="77.62" y1="433.30" x2="77.62" y2="435.50" stroke="#333" stroke-width="0.8" />
<text x="77.82" y="441.70" font-family="Liberation Sans, sans-serif" font-size="6" fill="#4d4d4d" text-anchor="end" >30</text>
<line x1="117.20" y1="433.30" x2="117.20" y2="435.50" stroke="#333" stroke-width="0.8" />
<text x="117.40" y="441.70" font-family="Liberation Sans, sans-serif" font-size="6" fill="#4d4d4d" text-anchor="end" >100</text>
<line x1="153.32" y1="433.30" x2="153.32" y2="435.50" stroke="#333" stroke-width="0.8" />
<text x="153.52" y="441.70" font-family="Liberation Sans, sans-serif" font-size="6" fill="#4d4d4d" text-anchor="end" >300</text>
<line x1="192.90" y1="433.30" x2="192.90" y2="435.50" stroke="#333" stroke-width="0.8" />
<text x="193.10" y="441.70" font-family="Liberation Sans, sans-serif" font-size="6" fill="#4d4d4d" text-anchor="end" >1000</text>
<line x1="229.02" y1="433.30" x2="229.02" y2="435.50" stroke="#333" stroke-width="0.8" />
<text x="229.22" y="441.70" font-family="Liberation Sans, sans-serif" font-size="6" fill="#4d4d4d" text-anchor="end" >3000</text>
<line x1="46.70" y1="414.60" x2="49.10" y2="414.60" stroke="#222" stroke-width="0.8" />
<line x1="64.29" y1="433.30" x2="64.29" y2="430.90" stroke="#222" stroke-width="0.8" />
<line x1="46.70" y1="400.79" x2="49.10" y2="400.79" stroke="#222" stroke-width="0.8" />
<line x1="77.62" y1="433.30" x2="77.62" y2="430.90" stroke="#222" stroke-width="0.8" />
<line x1="46.70" y1="391.00" x2="49.10" y2="391.00" stroke="#222" stroke-width="0.8" />
<line x1="87.08" y1="433.30" x2="87.08" y2="430.90" stroke="#222" stroke-width="0.8" />
<line x1="46.70" y1="383.40" x2="51.60" y2="383.40" stroke="#222" stroke-width="0.8" />
<line x1="94.41" y1="433.30" x2="94.41" y2="428.40" stroke="#222" stroke-width="0.8" />
<line x1="46.70" y1="377.19" x2="49.10" y2="377.19" stroke="#222" stroke-width="0.8" />
<line x1="100.41" y1="433.30" x2="100.41" y2="430.90" stroke="#222" stroke-width="0.8" />
<line x1="46.70" y1="371.94" x2="49.10" y2="371.94" stroke="#222" stroke-width="0.8" />
<line x1="105.47" y1="433.30" x2="105.47" y2="430.90" stroke="#222" stroke-width="0.8" />
<line x1="46.70" y1="367.40" x2="49.10" y2="367.40" stroke="#222" stroke-width="0.8" />
<line x1="109.86" y1="433.30" x2="109.86" y2="430.90" stroke="#222" stroke-width="0.8" />
<line x1="46.70" y1="363.39" x2="49.10" y2="363.39" stroke="#222" stroke-width="0.8" />
<line x1="113.74" y1="433.30" x2="113.74" y2="430.90" stroke="#222" stroke-width="0.8" />
<line x1="46.70" y1="359.80" x2="54.00" y2="359.80" stroke="#222" stroke-width="0.8" />
<line x1="117.20" y1="433.30" x2="117.20" y2="426.00" stroke="#222" stroke-width="0.8" />
<line x1="46.70" y1="336.20" x2="49.10" y2="336.20" stroke="#222" stroke-width="0.8" />
<line x1="139.99" y1="433.30" x2="139.99" y2="430.90" stroke="#222" stroke-width="0.8" />
<line x1="46.70" y1="322.39" x2="49.10" y2="322.39" stroke="#222" stroke-width="0.8" />
<line x1="153.32" y1="433.30" x2="153.32" y2="430.90" stroke="#222" stroke-width="0.8" />
<line x1="46.70" y1="312.60" x2="49.10" y2="312.60" stroke="#222" stroke-width="0.8" />
<line x1="162.78" y1="433.30" x2="162.78" y2="430.90" stroke="#222" stroke-width="0.8" />
<line x1="46.70" y1="305.00" x2="51.60" y2="305.00" stroke="#222" stroke-width="0.8" />
<line x1="170.11" y1="433.30" x2="170.11" y2="428.40" stroke="#222" stroke-width="0.8" />
<line x1="46.70" y1="298.79" x2="49.10" y2="298.79" stroke="#222" stroke-width="0.8" />
<line x1="176.11" y1="433.30" x2="176.11" y2="430.90" stroke="#222" stroke-width="0.8" />
<line x1="46.70" y1="293.54" x2="49.10" y2="293.54" stroke="#222" stroke-width="0.8" />
<line x1="181.17" y1="433.30" x2="181.17" y2="430.90" stroke="#222" stroke-width="0.8" />
<line x1="46.70" y1="289.00" x2="49.10" y2="289.00" stroke="#222" stroke-width="0.8" />
<line x1="185.56" y1="433.30" x2="185.56" y2="430.90" stroke="#222" stroke-width="0.8" />
<line x1="46.70" y1="284.99" x2="49.10" y2="284.99" stroke="#222" stroke-width="0.8" />
<line x1="189.44" y1="433.30" x2="189.44" y2="430.90" stroke="#222" stroke-width="0.8" />
<line x1="46.70" y1="281.40" x2="54.00" y2="281.40" stroke="#222" stroke-width="0.8" />
<line x1="192.90" y1="433.30" x2="192.90" y2="426.00" stroke="#222" stroke-width="0.8" />
<line x1="46.70" y1="257.80" x2="49.10" y2="257.80" stroke="#222" stroke-width="0.8" />
<line x1="215.69" y1="433.30" x2="215.69" y2="430.90" stroke="#222" stroke-width="0.8" />
<line x1="46.70" y1="243.99" x2="49.10" y2="243.99" stroke="#222" stroke-width="0.8" />
<line x1="229.02" y1="433.30" x2="229.02" y2="430.90" stroke="#222" stroke-width="0.8" />
<line x1="46.70" y1="433.30" x2="235.60" y2="237.60" stroke="#111" stroke-width="1.1" />
<circle cx="200.2" cy="244.8" r="2.0" fill="#000"/>
<circle cx="202.6" cy="247.0" r="2.0" fill="#000"/>
<circle cx="180.5" cy="260.0" r="2.0" fill="#000"/>
<circle cx="172.9" cy="262.0" r="2.0" fill="#000"/>
<circle cx="161.8" cy="267.1" r="2.0" fill="#000"/>
<circle cx="172.1" cy="269.0" r="2.0" fill="#000"/>
<circle cx="168.4" cy="271.8" r="2.0" fill="#000"/>
<circle cx="166.4" cy="278.2" r="2.0" fill="#000"/>
<circle cx="172.3" cy="277.5" r="2.0" fill="#000"/>
<circle cx="160.0" cy="289.8" r="2.0" fill="#000"/>
<circle cx="141.7" cy="294.8" r="2.0" fill="#000"/>
<circle cx="146.3" cy="296.9" r="2.0" fill="#000"/>
<circle cx="129.3" cy="294.6" r="2.0" fill="#000"/>
<circle cx="138.6" cy="294.1" r="2.0" fill="#000"/>
<circle cx="142.0" cy="295.1" r="2.0" fill="#000"/>
<circle cx="146.6" cy="297.4" r="2.0" fill="#000"/>
<circle cx="138.6" cy="299.3" r="2.0" fill="#000"/>
<circle cx="144.5" cy="304.4" r="2.0" fill="#000"/>
<circle cx="126.0" cy="311.0" r="2.0" fill="#000"/>
<circle cx="132.2" cy="310.0" r="2.0" fill="#000"/>
<circle cx="134.4" cy="312.8" r="2.0" fill="#000"/>
<circle cx="120.3" cy="318.5" r="2.0" fill="#000"/>
<circle cx="127.0" cy="319.5" r="2.0" fill="#000"/>
<circle cx="129.8" cy="319.0" r="2.0" fill="#000"/>
<circle cx="110.5" cy="322.3" r="2.0" fill="#000"/>
<circle cx="105.2" cy="329.7" r="2.0" fill="#000"/>
<circle cx="111.5" cy="329.3" r="2.0" fill="#000"/>
<circle cx="115.0" cy="330.0" r="2.0" fill="#000"/>
<circle cx="117.5" cy="329.3" r="2.0" fill="#000"/>
<circle cx="99.3" cy="336.8" r="2.0" fill="#000"/>
<circle cx="100.2" cy="340.5" r="2.0" fill="#000"/>
<circle cx="108.3" cy="334.9" r="2.0" fill="#000"/>
<circle cx="109.4" cy="339.1" r="2.0" fill="#000"/>
<circle cx="99.8" cy="339.1" r="2.0" fill="#000"/>
<circle cx="78.3" cy="350.9" r="2.0" fill="#000"/>
<circle cx="77.1" cy="356.5" r="2.0" fill="#000"/>
<circle cx="77.3" cy="362.4" r="2.0" fill="#000"/>
<circle cx="66.4" cy="364.5" r="2.0" fill="#000"/>
<circle cx="87.5" cy="356.1" r="2.0" fill="#000"/>
<circle cx="92.3" cy="350.2" r="2.0" fill="#000"/>
<circle cx="90.6" cy="360.0" r="2.0" fill="#000"/>
<circle cx="90.9" cy="362.0" r="2.0" fill="#000"/>
<circle cx="96.3" cy="358.2" r="2.0" fill="#000"/>
<circle cx="58.0" cy="384.5" r="2.0" fill="#000"/>
<circle cx="55.8" cy="386.8" r="2.0" fill="#000"/>
<text x="182.90" y="252.60" font-family="Liberation Sans, sans-serif" font-size="6.0" fill="#7a7a7a" textLength="22.9" lengthAdjust="spacingAndGlyphs" >astrocyte</text>
<text x="173.00" y="258.20" font-family="Liberation Sans, sans-serif" font-size="6.0" fill="#7a7a7a" textLength="10.9" lengthAdjust="spacingAndGlyphs" >ESC</text>
<text x="165.60" y="275.80" font-family="Liberation Sans, sans-serif" font-size="6.0" fill="#7a7a7a" text-anchor="end" textLength="63.2" lengthAdjust="spacingAndGlyphs" >hemato.multi.progenitor_</text>
<text x="152.00" y="285.90" font-family="Liberation Sans, sans-serif" font-size="6.0" fill="#7a7a7a" textLength="27.1" lengthAdjust="spacingAndGlyphs" >(E)brain_3</text>
<text x="127.00" y="304.70" font-family="Liberation Sans, sans-serif" font-size="6.0" fill="#7a7a7a" textLength="26.3" lengthAdjust="spacingAndGlyphs" >(A)brain_1</text>
<text x="124.10" y="315.20" font-family="Liberation Sans, sans-serif" font-size="6.0" fill="#7a7a7a" textLength="21.9" lengthAdjust="spacingAndGlyphs" >(E)retina</text>
<text x="108.30" y="325.50" font-family="Liberation Sans, sans-serif" font-size="6.0" fill="#7a7a7a" textLength="28.9" lengthAdjust="spacingAndGlyphs" >(A)stomach</text>
<text x="77.70" y="335.60" font-family="Liberation Sans, sans-serif" font-size="6.0" fill="#7a7a7a" textLength="27.2" lengthAdjust="spacingAndGlyphs" >(E)brain_2</text>
<text x="108.00" y="346.60" font-family="Liberation Sans, sans-serif" font-size="6.0" fill="#7a7a7a" textLength="26" lengthAdjust="spacingAndGlyphs" >(E)brain_1</text>
<text x="84.70" y="351.90" font-family="Liberation Sans, sans-serif" font-size="6.0" fill="#7a7a7a" textLength="17.5" lengthAdjust="spacingAndGlyphs" >(E)liver</text>
<text x="50.50" y="372.30" font-family="Liberation Sans, sans-serif" font-size="6.0" fill="#7a7a7a" textLength="28.9" lengthAdjust="spacingAndGlyphs" >(A)T−cell_1</text>
<rect x="133.40" y="393.30" width="102.40" height="29.70" fill="#d8f0ea" stroke="none" stroke-width="1" />
<text x="137.30" y="401.60" font-family="Liberation Sans, sans-serif" font-size="7" fill="#3a3030" textLength="96" lengthAdjust="spacingAndGlyphs" ># Novel conserved enhancers</text>
<text x="137.30" y="410.30" font-family="Liberation Sans, sans-serif" font-size="5.5" fill="#3a3030" textLength="81" lengthAdjust="spacingAndGlyphs" >610 on average per cell/tissue</text>
<text x="137.30" y="419.00" font-family="Liberation Sans, sans-serif" font-size="5.5" fill="#3a3030" textLength="91" lengthAdjust="spacingAndGlyphs" >23,660 total across 45 cell/tissues</text>
<text x="142.90" y="451.40" font-family="Liberation Sans, sans-serif" font-size="8.1" fill="#111" text-anchor="middle" textLength="152.2" lengthAdjust="spacingAndGlyphs" ># identifiable conserved human enhancers</text>
<text x="142.10" y="459.90" font-family="Liberation Sans, sans-serif" font-size="8.1" fill="#111" text-anchor="middle" textLength="85.5" lengthAdjust="spacingAndGlyphs" >(LASTZ/Liftover unique)</text>
<text transform="translate(17.00,339.20) rotate(-90)" x="0" y="0" font-family="Liberation Sans, sans-serif" font-size="8.2" fill="#111" text-anchor="middle" textLength="153.3" lengthAdjust="spacingAndGlyphs"># identifiable conserved human enhancers</text>
<text transform="translate(26.00,334.20) rotate(-90)" x="0" y="0" font-family="Liberation Sans, sans-serif" font-size="8.2" fill="#111" text-anchor="middle" textLength="102.5" lengthAdjust="spacingAndGlyphs">(weighed gkm−align unique)</text>
<rect x="287.90" y="306.30" width="49.00" height="10.30" fill="#e5e5e5" stroke="#555" stroke-width="0.8" rx="1.5"/>
<rect x="389.60" y="306.30" width="49.00" height="10.30" fill="#e5e5e5" stroke="#555" stroke-width="0.8" rx="1.5"/>
<rect x="287.90" y="380.40" width="49.00" height="9.70" fill="#e5e5e5" stroke="#555" stroke-width="0.8" rx="1.5"/>
<rect x="389.60" y="380.40" width="49.00" height="9.70" fill="#e5e5e5" stroke="#555" stroke-width="0.8" rx="1.5"/>
<path d="M346.4,304.2 Q363.9,229.6 381.4,304.2 Z" fill="#ffd566" stroke="#f4b183" stroke-width="1.3"/>
<path d="M345.70,394.50 C346.13,395.67 347.18,398.75 348.30,401.50 C349.42,404.25 350.92,407.82 352.40,411.00 C353.88,414.18 355.93,417.77 357.20,420.60 C358.47,423.43 359.02,426.23 360.00,428.00 C360.98,429.77 362.07,431.20 363.10,431.20 C364.13,431.20 365.22,429.77 366.20,428.00 C367.18,426.23 367.73,423.43 369.00,420.60 C370.27,417.77 372.32,414.18 373.80,411.00 C375.28,407.82 376.78,404.25 377.90,401.50 C379.02,398.75 380.07,395.67 380.50,394.50 Z" fill="#ffd566" stroke="#f4b183" stroke-width="1.3"/>
<rect x="336.50" y="304.10" width="54.00" height="16.50" fill="#93d152" stroke="#4a7a2a" stroke-width="0.9" />
<rect x="336.50" y="377.90" width="54.00" height="16.60" fill="#00b0f0" stroke="#1f3548" stroke-width="0.9" />
<text x="363.60" y="310.80" font-family="Liberation Sans, sans-serif" font-size="5.5" fill="#111" text-anchor="middle" textLength="42" lengthAdjust="spacingAndGlyphs"  stroke="#111" stroke-width="0.15">Human Enhancer</text>
<text x="363.60" y="317.90" font-family="Liberation Sans, sans-serif" font-size="5.5" fill="#111" text-anchor="middle" textLength="11" lengthAdjust="spacingAndGlyphs"  stroke="#111" stroke-width="0.15">(HE)</text>
<text x="363.60" y="384.40" font-family="Liberation Sans, sans-serif" font-size="5.5" fill="#111" text-anchor="middle" textLength="40" lengthAdjust="spacingAndGlyphs"  stroke="#111" stroke-width="0.15">Mouse Enhancer</text>
<text x="363.60" y="391.20" font-family="Liberation Sans, sans-serif" font-size="5.5" fill="#111" text-anchor="middle" textLength="11" lengthAdjust="spacingAndGlyphs"  stroke="#111" stroke-width="0.15">(ME)</text>
<text x="364.50" y="293.60" font-family="Liberation Sans, sans-serif" font-size="7.5" fill="#111" text-anchor="middle" font-weight="bold" textLength="25" lengthAdjust="spacingAndGlyphs" >qDNase</text>
<text x="363.80" y="403.00" font-family="Liberation Sans, sans-serif" font-size="7.5" fill="#111" text-anchor="middle" font-weight="bold" textLength="25.8" lengthAdjust="spacingAndGlyphs" >mDNase</text>
<text x="363.30" y="415.80" font-family="Liberation Sans, sans-serif" font-size="11" fill="#3f7fc2" text-anchor="middle" font-weight="bold" >?</text>
<text x="262.90" y="303.80" font-family="Liberation Sans, sans-serif" font-size="5.5" fill="#111" textLength="35" lengthAdjust="spacingAndGlyphs"  stroke="#111" stroke-width="0.15">Query human</text>
<text x="262.90" y="311.00" font-family="Liberation Sans, sans-serif" font-size="5.5" fill="#111" textLength="23" lengthAdjust="spacingAndGlyphs"  stroke="#111" stroke-width="0.15">enhancer</text>
<text x="243.80" y="344.00" font-family="Liberation Sans, sans-serif" font-size="5.5" fill="#111" textLength="24" lengthAdjust="spacingAndGlyphs"  stroke="#111" stroke-width="0.15">gkm-align</text>
<text x="244.00" y="350.10" font-family="Liberation Sans, sans-serif" font-size="5.5" fill="#111" textLength="21.5" lengthAdjust="spacingAndGlyphs"  stroke="#111" stroke-width="0.15">mapping</text>
<text x="265.00" y="378.40" font-family="Liberation Sans, sans-serif" font-size="5.5" fill="#111" textLength="39" lengthAdjust="spacingAndGlyphs"  stroke="#111" stroke-width="0.15">Mapped mouse</text>
<text x="265.00" y="385.50" font-family="Liberation Sans, sans-serif" font-size="5.5" fill="#111" textLength="19" lengthAdjust="spacingAndGlyphs"  stroke="#111" stroke-width="0.15">element</text>
<path d="M270.6,323.1 L275.3,323.1 L275.3,368.1 L277.6,368.1 L272.95,372.9 L268.3,368.1 L270.6,368.1 Z" fill="#000"/>
<path d="M351.2,329.1 L356.8,334.5 L353.4,334.5 L353.4,363.5 L356.8,363.5 L351.2,369.1 L345.6,363.5 L349,363.5 L349,334.5 L345.6,334.5 Z" fill="#fed467" stroke="#4f6079" stroke-width="0.6"/>
<path d="M372.3,329.4 L377.1,329.4 L377.1,363.5 L380.2,363.5 L374.7,369.1 L369.2,363.5 L372.3,363.5 Z" fill="#fed467" stroke="#4f6079" stroke-width="0.6"/>
<text x="290.00" y="342.90" font-family="Liberation Sans, sans-serif" font-size="6.3" fill="#111" font-weight="bold" textLength="53.7" lengthAdjust="spacingAndGlyphs"  stroke="#111" stroke-width="0.1">Sequence similarity</text>
<text x="290.00" y="350.80" font-family="Liberation Sans, sans-serif" font-size="6.3" fill="#111" font-weight="bold" textLength="46" lengthAdjust="spacingAndGlyphs"  stroke="#111" stroke-width="0.1">gkm-sim(HE,ME)</text>
<text x="381.70" y="342.70" font-family="Liberation Sans, sans-serif" font-size="6.3" fill="#111" font-weight="bold" textLength="46.5" lengthAdjust="spacingAndGlyphs"  stroke="#111" stroke-width="0.1">Human gkm-SVM</text>
<text x="381.70" y="350.70" font-family="Liberation Sans, sans-serif" font-size="6.3" fill="#111" font-weight="bold" textLength="18.1" lengthAdjust="spacingAndGlyphs"  stroke="#111" stroke-width="0.1">P<tspan font-size="4" dy="1">H</tspan><tspan dy="-1">(ME)</tspan></text>
<line x1="485.30" y1="444.10" x2="682.60" y2="444.10" stroke="#ebebeb" stroke-width="0.9" />
<line x1="485.30" y1="428.95" x2="682.60" y2="428.95" stroke="#ebebeb" stroke-width="0.6" />
<line x1="485.30" y1="413.80" x2="682.60" y2="413.80" stroke="#ebebeb" stroke-width="0.9" />
<line x1="485.30" y1="398.65" x2="682.60" y2="398.65" stroke="#ebebeb" stroke-width="0.6" />
<line x1="485.30" y1="383.50" x2="682.60" y2="383.50" stroke="#ebebeb" stroke-width="0.9" />
<line x1="485.30" y1="368.35" x2="682.60" y2="368.35" stroke="#ebebeb" stroke-width="0.6" />
<line x1="485.30" y1="353.20" x2="682.60" y2="353.20" stroke="#ebebeb" stroke-width="0.9" />
<line x1="485.30" y1="338.05" x2="682.60" y2="338.05" stroke="#ebebeb" stroke-width="0.6" />
<line x1="485.30" y1="322.90" x2="682.60" y2="322.90" stroke="#ebebeb" stroke-width="0.9" />
<line x1="485.30" y1="307.75" x2="682.60" y2="307.75" stroke="#ebebeb" stroke-width="0.6" />
<line x1="485.30" y1="292.60" x2="682.60" y2="292.60" stroke="#ebebeb" stroke-width="0.9" />
<line x1="485.30" y1="277.45" x2="682.60" y2="277.45" stroke="#ebebeb" stroke-width="0.6" />
<line x1="485.30" y1="262.30" x2="682.60" y2="262.30" stroke="#ebebeb" stroke-width="0.9" />
<line x1="504.50" y1="259.00" x2="504.50" y2="447.80" stroke="#ebebeb" stroke-width="0.9" />
<line x1="536.30" y1="259.00" x2="536.30" y2="447.80" stroke="#ebebeb" stroke-width="0.9" />
<line x1="568.10" y1="259.00" x2="568.10" y2="447.80" stroke="#ebebeb" stroke-width="0.9" />
<line x1="599.90" y1="259.00" x2="599.90" y2="447.80" stroke="#ebebeb" stroke-width="0.9" />
<line x1="631.70" y1="259.00" x2="631.70" y2="447.80" stroke="#ebebeb" stroke-width="0.9" />
<line x1="663.50" y1="259.00" x2="663.50" y2="447.80" stroke="#ebebeb" stroke-width="0.9" />
<text x="481.20" y="446.40" font-family="Liberation Sans, sans-serif" font-size="6.5" fill="#4d4d4d" text-anchor="end" >0.1</text>
<text x="481.20" y="416.10" font-family="Liberation Sans, sans-serif" font-size="6.5" fill="#4d4d4d" text-anchor="end" >0.2</text>
<text x="481.20" y="385.80" font-family="Liberation Sans, sans-serif" font-size="6.5" fill="#4d4d4d" text-anchor="end" >0.3</text>
<text x="481.20" y="355.50" font-family="Liberation Sans, sans-serif" font-size="6.5" fill="#4d4d4d" text-anchor="end" >0.4</text>
<text x="481.20" y="325.20" font-family="Liberation Sans, sans-serif" font-size="6.5" fill="#4d4d4d" text-anchor="end" >0.5</text>
<text x="481.20" y="294.90" font-family="Liberation Sans, sans-serif" font-size="6.5" fill="#4d4d4d" text-anchor="end" >0.6</text>
<text x="481.20" y="264.60" font-family="Liberation Sans, sans-serif" font-size="6.5" fill="#4d4d4d" text-anchor="end" >0.7</text>
<text x="485.60" y="252.50" font-family="Liberation Sans, sans-serif" font-size="9.4" fill="#111" textLength="141.3" lengthAdjust="spacingAndGlyphs" >Predicting functional conservation</text>
<line x1="504.50" y1="334.00" x2="504.50" y2="436.50" stroke="#444" stroke-width="1" />
<rect x="499.40" y="376.50" width="10.20" height="28.30" fill="#7f7f7f" stroke="#333" stroke-width="0.9" />
<line x1="499.40" y1="386.80" x2="509.60" y2="386.80" stroke="#222" stroke-width="1.3" />
<line x1="536.30" y1="313.90" x2="536.30" y2="436.50" stroke="#444" stroke-width="1" />
<rect x="531.20" y="356.40" width="10.20" height="43.10" fill="#7f7f7f" stroke="#333" stroke-width="0.9" />
<line x1="531.20" y1="379.70" x2="541.40" y2="379.70" stroke="#222" stroke-width="1.3" />
<line x1="568.10" y1="306.70" x2="568.10" y2="393.60" stroke="#444" stroke-width="1" />
<rect x="563.00" y="336.10" width="10.20" height="26.30" fill="#7f7f7f" stroke="#333" stroke-width="0.9" />
<line x1="563.00" y1="347.60" x2="573.20" y2="347.60" stroke="#222" stroke-width="1.3" />
<line x1="599.90" y1="291.50" x2="599.90" y2="404.80" stroke="#444" stroke-width="1" />
<rect x="594.80" y="327.90" width="10.20" height="38.50" fill="#7f7f7f" stroke="#333" stroke-width="0.9" />
<line x1="594.80" y1="350.30" x2="605.00" y2="350.30" stroke="#222" stroke-width="1.3" />
<line x1="631.70" y1="289.30" x2="631.70" y2="399.70" stroke="#444" stroke-width="1" />
<rect x="626.60" y="320.00" width="10.20" height="33.60" fill="#7f7f7f" stroke="#333" stroke-width="0.9" />
<line x1="626.60" y1="335.50" x2="636.80" y2="335.50" stroke="#222" stroke-width="1.3" />
<line x1="663.50" y1="267.70" x2="663.50" y2="378.50" stroke="#444" stroke-width="1" />
<rect x="658.40" y="293.60" width="10.20" height="34.00" fill="#0b6cb6" stroke="#1e3550" stroke-width="0.9" />
<line x1="658.40" y1="308.20" x2="668.60" y2="308.20" stroke="#222" stroke-width="1.3" />
<text x="489.10" y="302.70" font-family="Liberation Sans, sans-serif" font-size="5.3" fill="#111" textLength="33" lengthAdjust="spacingAndGlyphs"  stroke="#111" stroke-width="0.18">Query human</text>
<text x="491.60" y="310.20" font-family="Liberation Sans, sans-serif" font-size="5.3" fill="#111" textLength="22" lengthAdjust="spacingAndGlyphs"  stroke="#111" stroke-width="0.18">enhancer</text>
<text x="489.10" y="317.60" font-family="Liberation Sans, sans-serif" font-size="5.3" fill="#111" textLength="30" lengthAdjust="spacingAndGlyphs"  stroke="#111" stroke-width="0.18">Dnase-signal</text>
<text x="491.10" y="325.10" font-family="Liberation Sans, sans-serif" font-size="5.3" fill="#111" textLength="22" lengthAdjust="spacingAndGlyphs"  stroke="#111" stroke-width="0.18">(qDnase)</text>
<text x="516.00" y="284.80" font-family="Liberation Sans, sans-serif" font-size="5.3" fill="#111" textLength="47" lengthAdjust="spacingAndGlyphs"  stroke="#111" stroke-width="0.18">Sequence similarity</text>
<text x="517.20" y="291.70" font-family="Liberation Sans, sans-serif" font-size="5.3" fill="#111" textLength="38" lengthAdjust="spacingAndGlyphs"  stroke="#111" stroke-width="0.18">gkmsim(HE,ME)</text>
<text x="548.00" y="304.80" font-family="Liberation Sans, sans-serif" font-size="5.3" fill="#111" textLength="45" lengthAdjust="spacingAndGlyphs"  stroke="#111" stroke-width="0.18">gkm-SVM <tspan font-family="Liberation Serif, serif" font-style="italic">P<tspan font-size="3.5" dy="1">H</tspan><tspan dy="-1">(ME)</tspan></tspan></text>
<text x="614.80" y="271.80" font-family="Liberation Sans, sans-serif" font-size="5.3" fill="#111" textLength="17.5" lengthAdjust="spacingAndGlyphs"  stroke="#111" stroke-width="0.18">qDnase</text>
<text x="614.80" y="279.00" font-family="Liberation Sans, sans-serif" font-size="5.3" fill="#111" textLength="43" lengthAdjust="spacingAndGlyphs"  stroke="#111" stroke-width="0.18">x gkmsim(HE,ME)</text>
<text x="614.80" y="286.80" font-family="Liberation Sans, sans-serif" font-size="5.3" fill="#111" textLength="25" lengthAdjust="spacingAndGlyphs"  stroke="#111" stroke-width="0.18">x <tspan font-family="Liberation Serif, serif" font-style="italic">p<tspan font-size="3.5" dy="1">M</tspan><tspan dy="-1">(ME)</tspan></tspan></text>
<text x="650.90" y="255.60" font-family="Liberation Sans, sans-serif" font-size="5.3" fill="#111" textLength="24.5" lengthAdjust="spacingAndGlyphs"  stroke="#111" stroke-width="0.18">Regression</text>
<text x="650.90" y="262.40" font-family="Liberation Sans, sans-serif" font-size="5.3" fill="#111" textLength="24.5" lengthAdjust="spacingAndGlyphs"  stroke="#111" stroke-width="0.18">prediction</text>
<text x="579.50" y="410.80" font-family="Liberation Sans, sans-serif" font-size="5.3" fill="#111" textLength="17.5" lengthAdjust="spacingAndGlyphs"  stroke="#111" stroke-width="0.18">qDnase</text>
<text x="579.50" y="418.00" font-family="Liberation Sans, sans-serif" font-size="5.3" fill="#111" textLength="42" lengthAdjust="spacingAndGlyphs"  stroke="#111" stroke-width="0.18">x gkmsim(HE,ME)</text>
<text x="564.50" y="454.50" font-family="Liberation Sans, sans-serif" font-size="8.5" fill="#111" textLength="74.8" lengthAdjust="spacingAndGlyphs"  stroke="#111" stroke-width="0.08">Features/predictors</text>
<text transform="translate(469.30,351.40) rotate(-90)" x="0" y="0" font-family="Liberation Sans, sans-serif" font-size="7.9" fill="#111" text-anchor="middle" textLength="90.3" lengthAdjust="spacingAndGlyphs">Pearson Corr w/ mDNase</text>
</svg>
</body></html>
